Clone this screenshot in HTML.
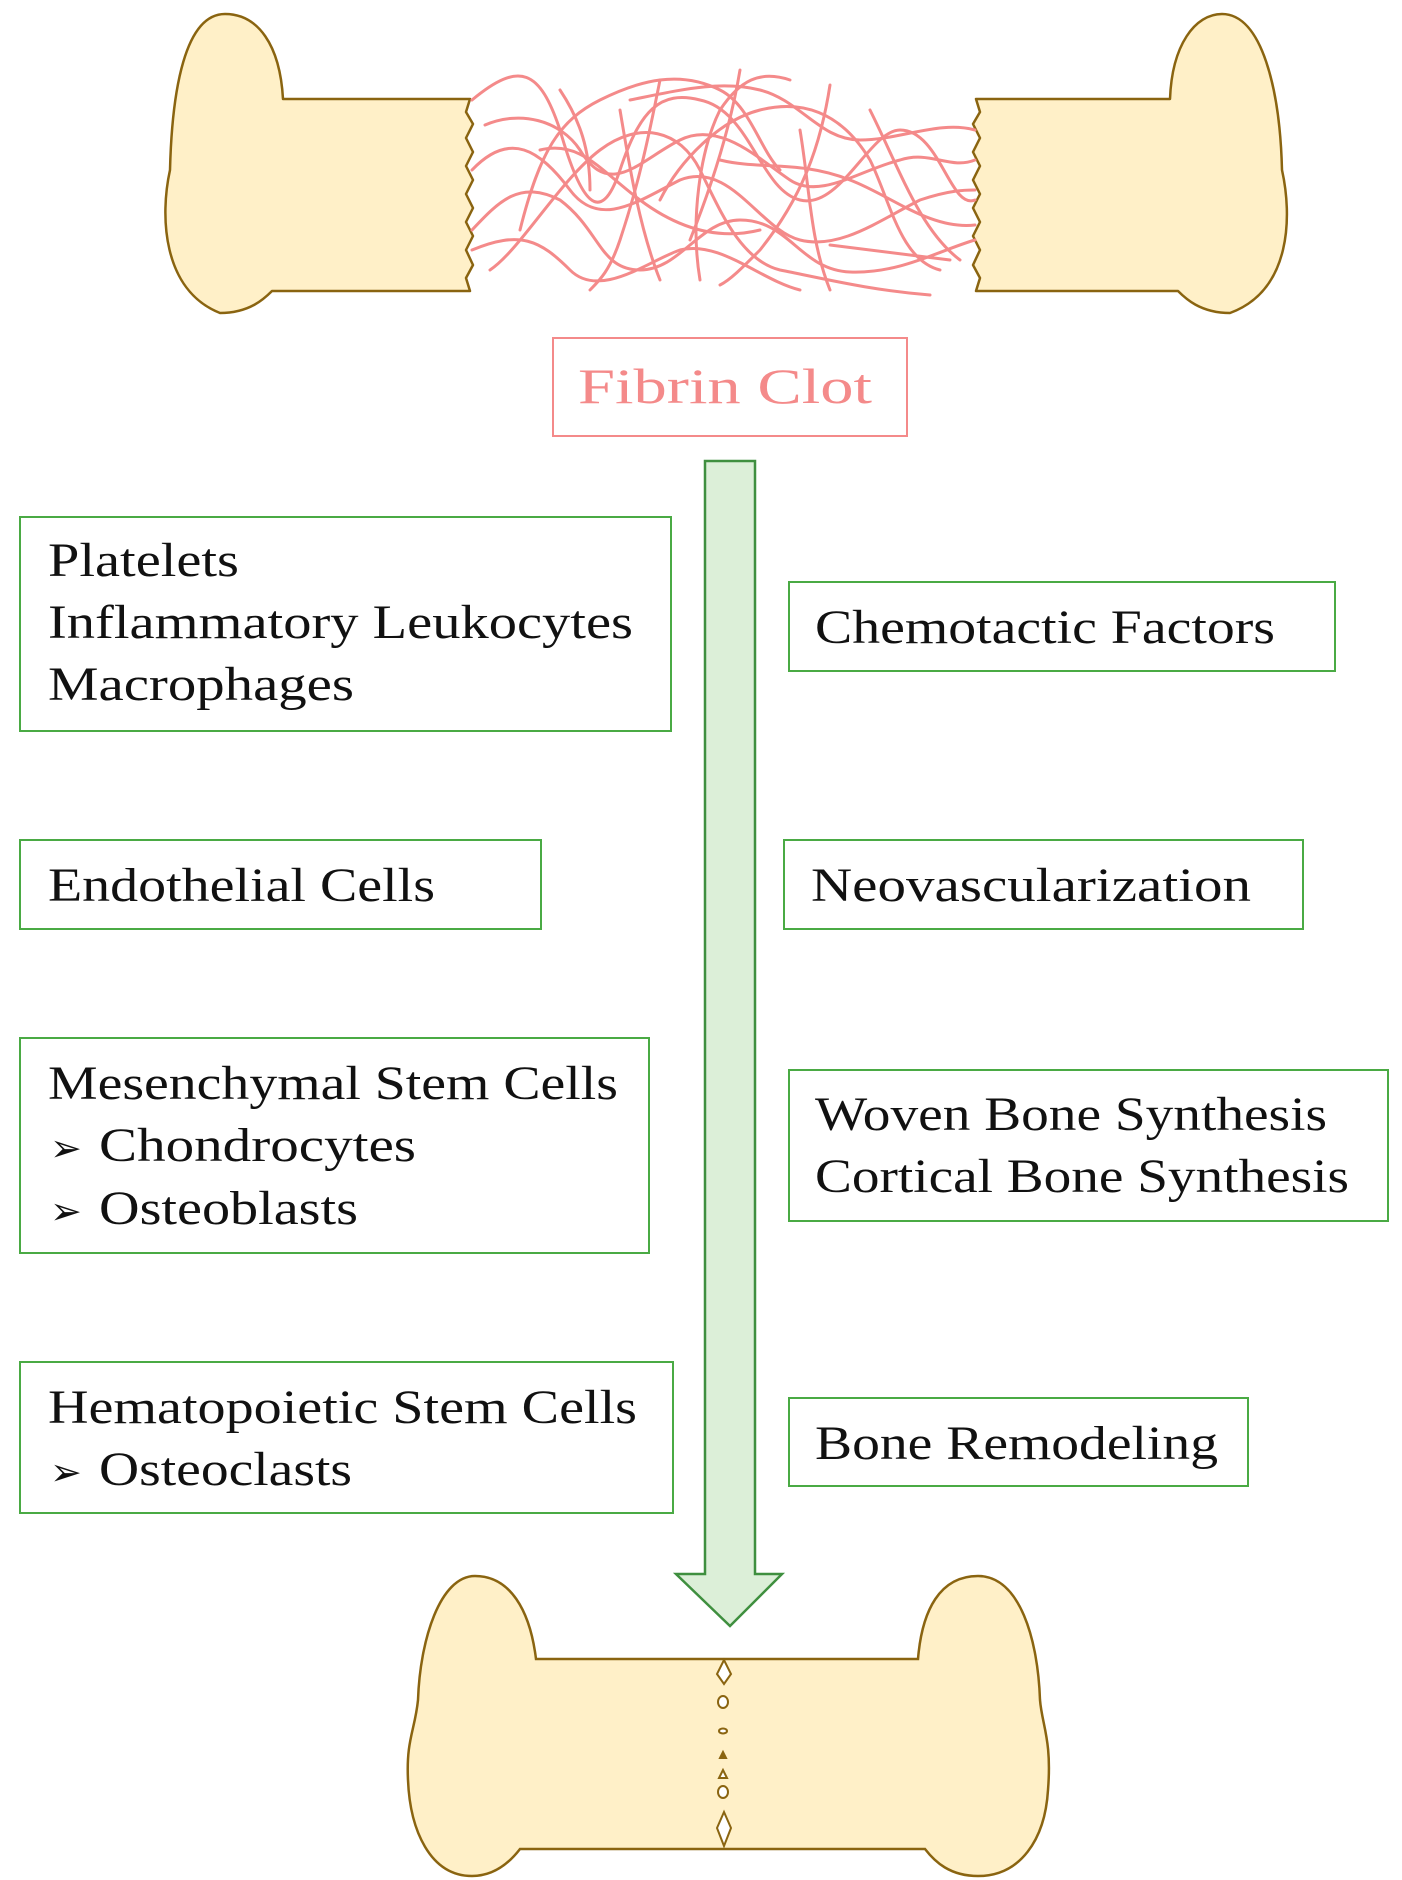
<!DOCTYPE html>
<html><head><meta charset="utf-8"><style>
html,body{margin:0;padding:0;background:#fff}
svg{display:block}
text{font-family:"Liberation Serif",serif;}
</style></head><body>
<svg width="1402" height="1880" viewBox="0 0 1402 1880" xmlns="http://www.w3.org/2000/svg">
<!-- top left bone -->
<path d="M470,99 L283,99 C280,45 258,14 225,14 C185,14 172,90 170,170 C160,215 162,290 220,313 C250,313 265,298 272,291 L470,291 L466,278 L473,265 L466,250 L473,236 L466,222 L473,208 L466,194 L473,180 L466,166 L473,152 L466,138 L473,124 L466,112 Z" fill="#fff0c8" stroke="#8a6410" stroke-width="2.5" stroke-linejoin="round"/>
<!-- top right bone -->
<path d="M976,99 L1170,99 C1172,45 1195,14 1222,14 C1262,14 1280,90 1282,170 C1292,215 1292,290 1230,313 C1200,313 1185,298 1178,291 L976,291 L980,278 L973,265 L980,250 L973,236 L980,222 L973,208 L980,194 L973,180 L980,166 L973,152 L980,138 L973,124 L980,112 Z" fill="#fff0c8" stroke="#8a6410" stroke-width="2.5" stroke-linejoin="round"/>
<!-- fibrin -->
<g fill="none" stroke="#f48a8a" stroke-width="3" stroke-linecap="round">
<path d="M472,100 C520,60 540,70 560,130 C580,200 600,230 620,170 C640,110 660,90 700,100 C750,110 760,190 800,200 C840,210 870,130 900,130 C940,130 950,210 975,200"/>
<path d="M485,125 C520,110 560,120 580,150 C610,200 640,160 680,140 C720,120 760,160 790,180 C820,200 860,170 900,160 C930,150 950,170 975,160"/>
<path d="M472,170 C510,130 540,150 570,190 C600,230 640,200 680,180 C730,160 760,230 800,240 C840,250 880,220 920,200 C950,190 965,190 975,190"/>
<path d="M472,230 C500,200 520,180 560,200 C600,230 600,270 640,270 C680,270 700,220 740,220 C790,220 800,270 850,272 C900,274 940,250 975,240"/>
<path d="M472,250 C520,230 540,240 570,270 C600,300 650,260 680,250 C720,240 760,280 800,290"/>
<path d="M490,270 C520,250 560,180 600,150 C640,120 680,130 700,170 C720,210 740,260 780,270 C830,280 870,290 930,295"/>
<path d="M630,100 C680,90 720,80 760,90 C800,100 820,140 860,140 C900,140 940,120 975,130"/>
<path d="M520,230 C540,150 560,120 600,100 C640,80 680,70 720,90 C750,105 760,150 780,170"/>
<path d="M660,200 C680,160 720,120 760,110 C800,100 840,110 870,160 C890,200 900,260 940,270"/>
<path d="M700,280 C690,220 700,150 720,110 C740,80 760,70 790,80"/>
<path d="M540,150 C580,140 600,170 640,200 C680,230 720,240 760,230"/>
<path d="M660,80 C650,130 640,180 620,240 C610,270 600,280 590,290"/>
<path d="M740,70 C730,130 710,190 690,240"/>
<path d="M830,85 C820,150 800,200 760,250 C740,270 730,280 720,285"/>
<path d="M620,110 C630,170 640,230 660,280"/>
<path d="M800,130 C810,190 810,240 830,290"/>
<path d="M870,110 C900,170 920,230 960,260"/>
<path d="M720,160 C760,170 800,160 850,180 C890,195 930,230 975,225"/>
<path d="M830,245 C870,250 910,255 950,260"/>
<path d="M560,90 C580,120 590,150 590,190"/>
</g>
<!-- fibrin clot box -->
<rect x="553" y="338" width="354" height="98" fill="#fff" stroke="#f48a8a" stroke-width="2"/>
<text x="578" y="403" font-size="50" fill="#f48a8a" textLength="294" lengthAdjust="spacingAndGlyphs">Fibrin Clot</text>
<!-- arrow -->
<path d="M705,461 L755,461 L755,1574 L782,1574 L730,1626 L676,1574 L705,1574 Z" fill="#dcefd8" stroke="#3f8f3f" stroke-width="2.5" stroke-linejoin="miter"/>
<g fill="#fff" stroke="#4aaa44" stroke-width="2">
<rect x="20" y="517" width="651" height="214"/>
<rect x="789" y="582" width="546" height="89"/>
<rect x="20" y="840" width="521" height="89"/>
<rect x="784" y="840" width="519" height="89"/>
<rect x="20" y="1038" width="629" height="215"/>
<rect x="789" y="1070" width="599" height="151"/>
<rect x="20" y="1362" width="653" height="151"/>
<rect x="789" y="1398" width="459" height="88"/>
</g>
<g font-size="48" fill="#111">
<text x="48" y="576" textLength="191" lengthAdjust="spacingAndGlyphs">Platelets</text>
<text x="48" y="638" textLength="585" lengthAdjust="spacingAndGlyphs">Inflammatory Leukocytes</text>
<text x="48" y="700" textLength="306" lengthAdjust="spacingAndGlyphs">Macrophages</text>
<text x="815" y="643" textLength="460" lengthAdjust="spacingAndGlyphs">Chemotactic Factors</text>
<text x="48" y="901" textLength="387" lengthAdjust="spacingAndGlyphs">Endothelial Cells</text>
<text x="811" y="901" textLength="440" lengthAdjust="spacingAndGlyphs">Neovascularization</text>
<text x="48" y="1099" textLength="570" lengthAdjust="spacingAndGlyphs">Mesenchymal Stem Cells</text>
<text x="50" y="1161" font-size="38">➢</text>
<text x="99" y="1161" textLength="317" lengthAdjust="spacingAndGlyphs">Chondrocytes</text>
<text x="50" y="1224" font-size="38">➢</text>
<text x="99" y="1224" textLength="259" lengthAdjust="spacingAndGlyphs">Osteoblasts</text>
<text x="815" y="1130" textLength="512" lengthAdjust="spacingAndGlyphs">Woven Bone Synthesis</text>
<text x="815" y="1192" textLength="534" lengthAdjust="spacingAndGlyphs">Cortical Bone Synthesis</text>
<text x="48" y="1423" textLength="589" lengthAdjust="spacingAndGlyphs">Hematopoietic Stem Cells</text>
<text x="50" y="1485" font-size="38">➢</text>
<text x="99" y="1485" textLength="253" lengthAdjust="spacingAndGlyphs">Osteoclasts</text>
<text x="815" y="1459" textLength="403" lengthAdjust="spacingAndGlyphs">Bone Remodeling</text>
</g>
<!-- bottom bone -->
<path d="M536,1659 L918,1659 C922,1610 940,1576 978,1576 C1020,1576 1038,1640 1040,1700 C1042,1725 1052,1740 1048,1790 C1045,1840 1020,1876 978,1876 C950,1876 935,1862 925,1849 L520,1849 C510,1862 495,1876 472,1876 C430,1876 410,1830 408,1780 C406,1740 415,1730 418,1700 C420,1640 440,1576 475,1576 C510,1576 530,1610 536,1659 Z" fill="#fff0c8" stroke="#8a6410" stroke-width="2.5"/>
<g fill="#fff" stroke="#8a6410" stroke-width="2">
<path d="M724,1660 L717,1674 L724,1684 L731,1674 Z"/>
<ellipse cx="723" cy="1702" rx="5" ry="6"/>
<ellipse cx="723" cy="1731" rx="4" ry="2.5"/>
<path d="M723,1752 L720,1758 L726,1758 Z" fill="#8a6410"/>
<path d="M723,1770 L719,1778 L727,1778 Z"/>
<ellipse cx="723" cy="1792" rx="5" ry="6"/>
<path d="M724,1812 L717,1828 L724,1846 L731,1828 Z"/>
</g>
</svg>
</body></html>
